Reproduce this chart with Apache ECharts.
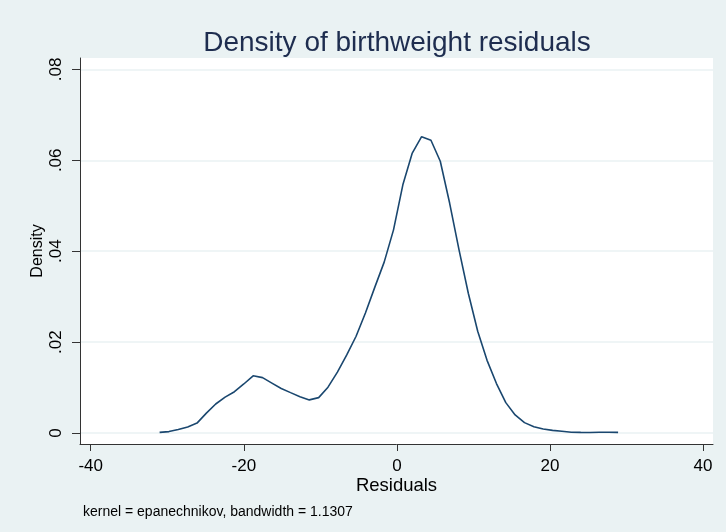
<!DOCTYPE html>
<html>
<head>
<meta charset="utf-8">
<script src="https://cdn.jsdelivr.net/npm/echarts@6/dist/echarts.min.js"></script>
<style>
    html, body { margin: 0; padding: 0; background: #eaf2f3; }
    #chart { width: 726px; height: 532px; }
</style>
</head>
<body>
<div id="chart"></div>
<script>
// kernel density estimate, 50 points
const residuals = [
    -31.00, -29.78, -28.56, -27.33, -26.11, -24.89, -23.67, -22.44, -21.22, -20.00,
    -18.78, -17.55, -16.33, -15.11, -13.89, -12.66, -11.44, -10.22, -9.00, -7.77,
    -6.55, -5.33, -4.11, -2.88, -1.66, -0.44, 0.78, 2.01, 3.23, 4.45,
    5.67, 6.89, 8.12, 9.34, 10.56, 11.78, 13.01, 14.23, 15.45, 16.67,
    17.90, 19.12, 20.34, 21.56, 22.79, 24.01, 25.23, 26.45, 27.68, 28.90
];
const density = [
    0.00015, 0.00033, 0.00077, 0.00136, 0.0022, 0.0044, 0.0064, 0.0079, 0.0091, 0.0108,
    0.0126, 0.0122, 0.0110, 0.0098, 0.0089, 0.0080, 0.0073, 0.0078, 0.0101, 0.0134,
    0.0172, 0.0213, 0.0264, 0.0321, 0.0376, 0.0447, 0.0546, 0.0616, 0.0652, 0.0644,
    0.0598, 0.0506, 0.0403, 0.0307, 0.0224, 0.0160, 0.0109, 0.0067, 0.0040, 0.0023,
    0.0014, 0.0009, 0.0006, 0.0004, 0.0002, 0.00015, 0.00013, 0.0002, 0.0002, 0.00015
];
const xTicks = [-40, -20, 0, 20, 40];
const yTicks = [0, 0.02, 0.04, 0.06, 0.08];
const yTickLabels = ['0', '.02', '.04', '.06', '.08'];

const font = 'Liberation Sans, Arial, sans-serif';
const mychart = echarts.init(document.getElementById('chart'));

mychart.setOption({
    backgroundColor: '#eaf2f3',
    animation: false,
    title: [
        {
            text: 'Density of birthweight residuals',
            left: 392,
            top: 24,
            textAlign: 'center',
            textStyle: { color: '#1e2d4f', fontSize: 28, fontWeight: 'normal', fontFamily: font },
        },
        {
            text: 'kernel = epanechnikov, bandwidth = 1.1307',
            left: 78,
            top: 500,
            textStyle: { color: '#000', fontSize: 14, fontWeight: 'normal', fontFamily: font },
        },
    ],
    grid: {
        left: 80,
        right: 13,
        top: 58,
        bottom: 88,
        show: true,
        backgroundColor: '#fff',
        borderWidth: 0,
    },
    xAxis: {
        type: 'value',
        min: -41.4,
        max: 41.3,
        name: 'Residuals',
        nameLocation: 'middle',
        nameGap: 32,
        nameMoveOverlap: false,
        nameTextStyle: { color: '#000', fontSize: 18.5, fontFamily: font },
        axisLine: { onZero: false, lineStyle: { color: '#333', width: 1 } },
        axisTick: { show: true, length: 7, customValues: xTicks, lineStyle: { color: '#333' } },
        axisLabel: {
            customValues: xTicks,
            color: '#000',
            fontSize: 17,
            fontFamily: font,
            margin: 14,
        },
        splitLine: { show: false },
    },
    yAxis: {
        type: 'value',
        min: -0.0024,
        max: 0.0825,
        name: 'Density',
        nameLocation: 'middle',
        nameRotate: 90,
        nameGap: 34,
        nameMoveOverlap: false,
        nameTextStyle: { color: '#000', fontSize: 16, fontFamily: font },
        axisLine: { show: true, onZero: false, lineStyle: { color: '#333', width: 1 } },
        axisTick: { show: true, length: 8, customValues: yTicks, lineStyle: { color: '#333' } },
        axisLabel: {
            customValues: yTicks,
            rotate: 90,
            color: '#000',
            fontSize: 17,
            fontFamily: font,
            margin: 15,
            formatter: (v) => yTickLabels[yTicks.findIndex(t => Math.abs(t - v) < 1e-9)] ?? '',
        },
        splitLine: { show: true, customValues: yTicks, lineStyle: { color: '#eaf2f3', width: 1.5 } },
    },
    series: [
        {
            type: 'line',
            data: residuals.map((x, i) => [x, density[i]]),
            showSymbol: false,
            smooth: false,
            lineStyle: { color: '#1a476f', width: 1.6 },
        },
    ],
});
</script>
</body>
</html>
